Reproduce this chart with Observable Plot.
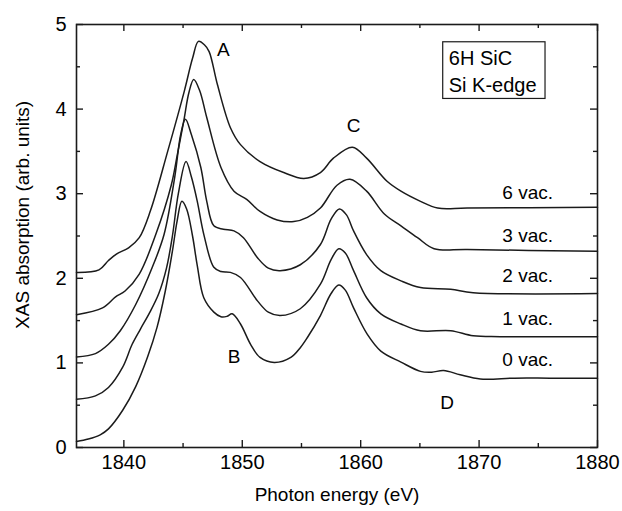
<!DOCTYPE html>
<html>
<head>
<meta charset="utf-8">
<script src="https://cdn.jsdelivr.net/npm/d3@7"></script>
<script src="https://cdn.jsdelivr.net/npm/@observablehq/plot@0.6"></script>
<style>
  html, body { margin: 0; padding: 0; background: #fff; }
  #chart { width: 622px; height: 511px; }
</style>
</head>
<body>
<div id="chart"></div>
<script>
// ---- Data ----
const energy0 = [1836, 1837, 1838, 1838.7, 1839.9, 1841, 1842, 1842.8, 1843.5, 1844.1, 1844.5, 1844.9, 1845.3, 1845.8, 1846.2, 1846.75, 1847.6, 1848.2, 1848.7, 1849.15, 1849.85, 1850.7, 1851.5, 1852.7, 1854.1, 1854.9, 1855.5, 1856.6, 1857.5, 1858.15, 1858.7, 1859.4, 1860.55, 1861.7, 1863.4, 1865.05, 1866, 1867, 1868.4, 1870.1, 1873, 1876, 1880];
const abs0    = [0.07, 0.10, 0.15, 0.22, 0.44, 0.72, 1.07, 1.42, 1.85, 2.32, 2.68, 2.91, 2.82, 2.50, 2.15, 1.77, 1.60, 1.545, 1.55, 1.58, 1.46, 1.22, 1.065, 1.005, 1.065, 1.18, 1.30, 1.56, 1.82, 1.92, 1.86, 1.65, 1.34, 1.14, 1.01, 0.90, 0.89, 0.91, 0.86, 0.81, 0.82, 0.82, 0.82];

const energy1 = [1836, 1837.6, 1838.7, 1839.9, 1840.7, 1841.4, 1842.2, 1842.95, 1843.6, 1844.1, 1844.6, 1845.25, 1845.7, 1846.2, 1846.75, 1847.6, 1848.2, 1849.0, 1849.85, 1851.3, 1852.2, 1853.2, 1854.9, 1856.6, 1857.5, 1858.15, 1858.7, 1859.4, 1860.5, 1861.7, 1863.4, 1865.05, 1867.6, 1869.5, 1871.8, 1880];
const abs1    = [0.57, 0.61, 0.71, 0.95, 1.22, 1.40, 1.60, 1.82, 2.12, 2.50, 3.00, 3.38, 3.20, 2.91, 2.52, 2.13, 2.08, 2.07, 2.01, 1.73, 1.60, 1.56, 1.64, 1.93, 2.22, 2.35, 2.30, 2.09, 1.77, 1.58, 1.46, 1.38, 1.38, 1.32, 1.31, 1.31];

const energy2 = [1836, 1837.6, 1838.7, 1839.7, 1841.0, 1842.4, 1843.4, 1844.3, 1844.8, 1845.2, 1845.7, 1846.5, 1847.0, 1847.6, 1848.4, 1849.3, 1850.1, 1851.3, 1852.2, 1853.2, 1854.9, 1856.6, 1857.5, 1858.2, 1858.8, 1859.4, 1860.5, 1861.7, 1863.4, 1865.05, 1867.6, 1869.5, 1880];
const abs2    = [1.07, 1.11, 1.22, 1.38, 1.69, 2.13, 2.52, 3.20, 3.70, 3.88, 3.70, 3.31, 2.91, 2.62, 2.58, 2.56, 2.48, 2.24, 2.12, 2.09, 2.16, 2.40, 2.70, 2.82, 2.75, 2.56, 2.28, 2.09, 1.97, 1.89, 1.87, 1.83, 1.82];

const energy3 = [1836, 1838.2, 1839.3, 1840.1, 1841.3, 1842.7, 1844.0, 1844.5, 1845.06, 1845.5, 1845.9, 1846.4, 1847.0, 1848.2, 1849.3, 1850.4, 1851.5, 1852.95, 1854.35, 1855.5, 1856.6, 1858.0, 1859.1, 1860.5, 1862.0, 1863.4, 1864.8, 1866.2, 1869.0, 1880];
const abs3    = [1.57, 1.65, 1.78, 1.85, 2.05, 2.52, 3.10, 3.45, 3.86, 4.20, 4.35, 4.22, 3.90, 3.31, 3.03, 2.93, 2.79, 2.69, 2.67, 2.72, 2.83, 3.10, 3.17, 3.03, 2.76, 2.62, 2.48, 2.35, 2.34, 2.32];

const energy6 = [1836, 1837.9, 1838.7, 1839.4, 1840.4, 1841.3, 1842.25, 1843.7, 1845.1, 1845.8, 1846.3, 1846.8, 1847.2, 1847.9, 1849.0, 1849.85, 1851.5, 1853.5, 1855.2, 1856.6, 1857.7, 1859.3, 1860.5, 1862.2, 1863.4, 1865.05, 1866.5, 1869.0, 1880];
const abs6    = [2.07, 2.10, 2.21, 2.29, 2.36, 2.48, 2.80, 3.50, 4.21, 4.60, 4.80, 4.76, 4.68, 4.29, 3.78, 3.58, 3.38, 3.25, 3.18, 3.25, 3.42, 3.55, 3.42, 3.15, 3.03, 2.91, 2.83, 2.83, 2.84];

const seriesNames = ["0 vac.", "1 vac.", "2 vac.", "3 vac.", "6 vac."];
const seriesLabelEnergy = [1874.1, 1874.1, 1874.1, 1874.1, 1874.1];
const seriesLabelAbs = [1.03, 1.52, 2.03, 2.50, 3.01];

const featureNames = ["A", "B", "C", "D"];
const featureEnergy = [1848.4, 1849.3, 1859.4, 1867.3];
const featureAbs = [4.70, 1.065, 3.80, 0.53];

const boxLines = ["6H SiC", "Si K-edge"];
const boxLineEnergy = [1867.44, 1867.44];
const boxLineAbs = [4.60, 4.28];
const boxEnergy = [1866.97, 1875.61];
const boxAbs = [4.12, 4.79];

const xTitle = "Photon energy (eV)";
const yTitle = "XAS absorption (arb. units)";
const yTitleEnergy = 1831.45;   // left of the frame
const yTitleAbs = 2.75;

const xMajor = [1840, 1850, 1860, 1870, 1880];
const xMinor = [1845, 1855, 1865, 1875];
const yMajor = [0, 1, 2, 3, 4, 5];
const yMinor = [0.5, 1.5, 2.5, 3.5, 4.5];

// ---- Build tables ----
const curves = [
  [energy0, abs0], [energy1, abs1], [energy2, abs2], [energy3, abs3], [energy6, abs6]
];
const rows = [];
curves.forEach(([es, vs], i) => es.forEach((e, j) => rows.push({series: seriesNames[i], e, v: vs[j]})));
const seriesLabels = seriesNames.map((t, i) => ({t, e: seriesLabelEnergy[i], v: seriesLabelAbs[i]}));
const features = featureNames.map((t, i) => ({t, e: featureEnergy[i], v: featureAbs[i]}));
const boxText = boxLines.map((t, i) => ({t, e: boxLineEnergy[i], v: boxLineAbs[i]}));

const W = 622, H = 511, mL = 76, mR = 25, mT = 24, mB = 64;
const innerW = W - mL - mR, innerH = H - mT - mB;
const ink = "#1b1b1b";
const FONT = "Liberation Sans, Arial, Helvetica, sans-serif";
const majorLen = 7, minorLen = 4;

const chart = Plot.plot({
  width: W, height: H,
  marginLeft: mL, marginRight: mR, marginTop: mT, marginBottom: mB,
  style: {fontFamily: FONT, color: "#000", background: "#fff"},
  x: {domain: [1836, 1880], axis: null},
  y: {domain: [0, 5], axis: null},
  marks: [
    // ticks (inward) on all four sides
    Plot.tickX(xMajor, {x: d => d, insetTop: innerH - majorLen, stroke: ink, strokeWidth: 1.4}),
    Plot.tickX(xMajor, {x: d => d, insetBottom: innerH - majorLen, stroke: ink, strokeWidth: 1.4}),
    Plot.tickX(xMinor, {x: d => d, insetTop: innerH - minorLen, stroke: ink, strokeWidth: 1.4}),
    Plot.tickX(xMinor, {x: d => d, insetBottom: innerH - minorLen, stroke: ink, strokeWidth: 1.4}),
    Plot.tickY(yMajor, {y: d => d, insetRight: innerW - majorLen, stroke: ink, strokeWidth: 1.4}),
    Plot.tickY(yMajor, {y: d => d, insetLeft: innerW - majorLen, stroke: ink, strokeWidth: 1.4}),
    Plot.tickY(yMinor, {y: d => d, insetRight: innerW - minorLen, stroke: ink, strokeWidth: 1.4}),
    Plot.tickY(yMinor, {y: d => d, insetLeft: innerW - minorLen, stroke: ink, strokeWidth: 1.4}),
    // tick labels
    Plot.text(xMajor, {x: d => d, text: d => String(d), frameAnchor: "bottom", dy: 21, fontSize: 20, fill: "#000"}),
    Plot.text(yMajor, {y: d => d, text: d => String(d), frameAnchor: "left", dx: -10, textAnchor: "end", fontSize: 20, fill: "#000"}),
    // axis titles
    Plot.text([xTitle], {text: d => d, frameAnchor: "bottom", dy: 53, fontSize: 19, fill: "#000"}),
    Plot.text([yTitle], {x: () => yTitleEnergy, y: () => yTitleAbs, text: d => d, rotate: -90, fontSize: 19, fill: "#000"}),
    // spectra
    Plot.line(rows, {x: "e", y: "v", z: "series", curve: "catmull-rom", stroke: ink, strokeWidth: 1.5}),
    // labels
    Plot.text(seriesLabels, {x: "e", y: "v", text: "t", fontSize: 19, fill: "#000"}),
    Plot.text(features, {x: "e", y: "v", text: "t", fontSize: 19, fill: "#000"}),
    Plot.rect([{}], {x1: () => boxEnergy[0], x2: () => boxEnergy[1], y1: () => boxAbs[0], y2: () => boxAbs[1], fill: "none", stroke: ink, strokeWidth: 1.2}),
    Plot.text(boxText, {x: "e", y: "v", text: "t", textAnchor: "start", fontSize: 20, fill: "#000"}),
    Plot.frame({stroke: ink, strokeWidth: 1.6})
  ]
});
document.getElementById("chart").appendChild(chart);
</script>
</body>
</html>
